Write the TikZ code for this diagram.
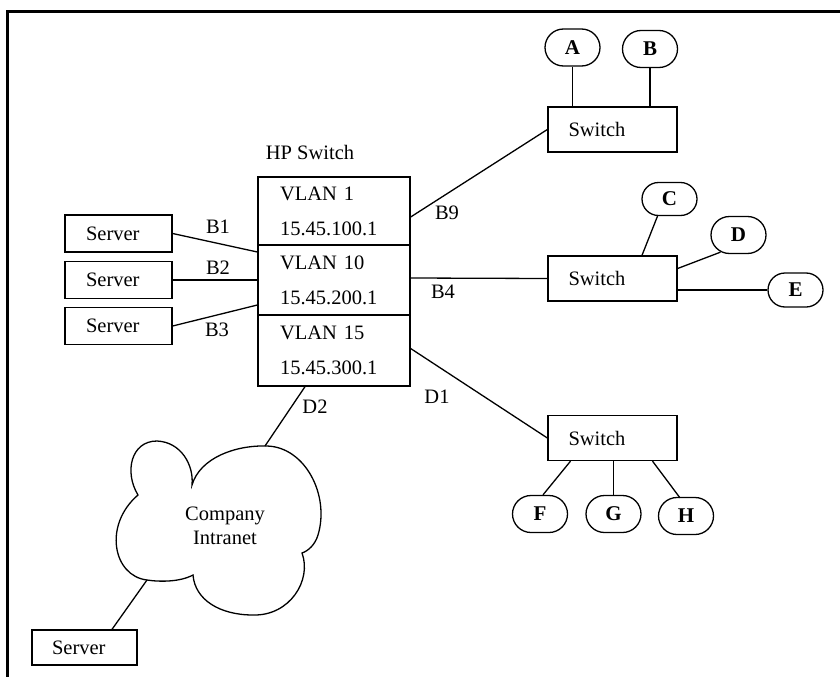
\documentclass[tikz,border=0pt]{standalone}
\usepackage{fontspec}
\usetikzlibrary{shapes.misc}
\setmainfont{Liberation Serif}
\begin{document}
\begin{tikzpicture}[x=1pt,y=-1pt,
  every node/.style={font=\fontsize{20.5}{35}\selectfont},
  line width=1.3pt,
  box/.style={draw, rectangle, inner sep=0pt, line width=1.3pt},
  vlanbox/.style={box, minimum width=152pt, align=left, text width=108pt},
  srvbox/.style={box, minimum width=107pt, minimum height=37pt, align=left, text width=65pt},
  swbox/.style={box, minimum width=129pt, minimum height=45pt, align=left, text width=88pt},
  term/.style={draw, rounded rectangle, minimum width=55pt, minimum height=37pt, inner sep=0pt, font=\fontsize{21}{24}\selectfont\bfseries},
  lbl/.style={inner sep=0pt}]
\useasboundingbox (0,0) rectangle (840,677);
% frame
\draw[line width=3pt, line join=miter] (840,11.5) -- (7.5,11.5) -- (7.5,677);

% HP switch
\node[lbl] (hp) at (310,152) {HP Switch};
\node[vlanbox, minimum height=68pt] (v1) at (334,211) {VLAN 1\\15.45.100.1};
\node[vlanbox, minimum height=70pt] (v10) at (334,280) {VLAN 10\\15.45.200.1};
\node[vlanbox, minimum height=71pt] (v15) at (334,350.5) {VLAN 15\\15.45.300.1};

% servers
\node[srvbox] (s1) at (118.5,233.5) {Server};
\node[srvbox] (s2) at (118.5,280) {Server};
\node[srvbox] (s3) at (118.5,326) {Server};
\node[srvbox, minimum width=105pt, minimum height=35pt] (sb) at (84.5,647.5) {Server};

% switches
\node[swbox] (sw1) at (612.5,129.5) {Switch};
\node[swbox] (sw2) at (612.5,278.5) {Switch};
\node[swbox] (sw3) at (612.5,438) {Switch};

% terminals
\node[term] (A) at (572.5,47.5) {A};
\node[term] (B) at (650,49) {B};
\node[term, minimum height=33pt] (C) at (669.5,199) {C};
\node[term] (D) at (738.5,235) {D};
\node[term, minimum height=34pt] (E) at (795.5,290) {E};
\node[term] (F) at (540,514) {F};
\node[term] (G) at (613.5,514) {G};
\node[term] (H) at (686,516) {H};

% labels
\node[lbl] (lB1) at (218,227) {B1};
\node[lbl] (lB2) at (218,268) {B2};
\node[lbl] (lB3) at (217,330) {B3};
\node[lbl] (lB9) at (447,213) {B9};
\node[lbl] (lB4) at (443,292) {B4};
\node[lbl] (lD1) at (437,397) {D1};
\node[lbl] (lD2) at (315,407) {D2};

% cloud
\draw (138,495) .. controls (124,472) and (131,441) .. (157,441)
  .. controls (181,442) and (194,465) .. (192,485)
  .. controls (200,458) and (235,445) .. (267,446)
  .. controls (305,447) and (330,495) .. (318,535)
  .. controls (315,545) and (308,551) .. (302,553)
  .. controls (312,580) and (290,616) .. (253,615)
  .. controls (220,615) and (195,600) .. (193,575)
  .. controls (180,582) and (160,582) .. (147,580)
  .. controls (113,576) and (103,525) .. (138,495) -- cycle;
\node[lbl, align=center, font=\fontsize{20.5}{24}\selectfont] (cloud) at (225,526) {Company\\Intranet};
\coordinate (cD2) at (265,446);
\coordinate (cSrv) at (147,580);

% connectors
\draw (A.south) -- (A.south |- sw1.north);
\draw (B.south) -- (B.south |- sw1.north);
\draw ([yshift=-6pt]v1.east) -- (sw1.west);
\draw ([yshift=2pt]v10.east) -- (sw2.west);
\draw ([yshift=2pt]v15.east) -- (sw3.west);
\draw ([xshift=-12pt]C.south) -- ([xshift=29.5pt]sw2.north);
\draw ([yshift=10pt]sw2.east) -- ([xshift=-18pt,yshift=2pt]D.south);
\draw ([yshift=-11.5pt]sw2.east) -- (E.west);
\draw ([xshift=-42pt]sw3.south) -- ([xshift=3pt]F.north);
\draw (G.north) -- (G.north |- sw3.south);
\draw ([xshift=40pt]sw3.south) -- ([xshift=-6pt,yshift=-1pt]H.north);
\draw (s1.east) -- ([yshift=28pt]v10.west);
\draw (s2.east) -- (v10.west);
\draw (s3.east) -- ([yshift=-25pt]v10.west);
\draw ([xshift=-29pt]v15.south) -- (cD2);
\draw (cSrv) -- ([xshift=27.5pt]sb.north);
\end{tikzpicture}
\end{document}
